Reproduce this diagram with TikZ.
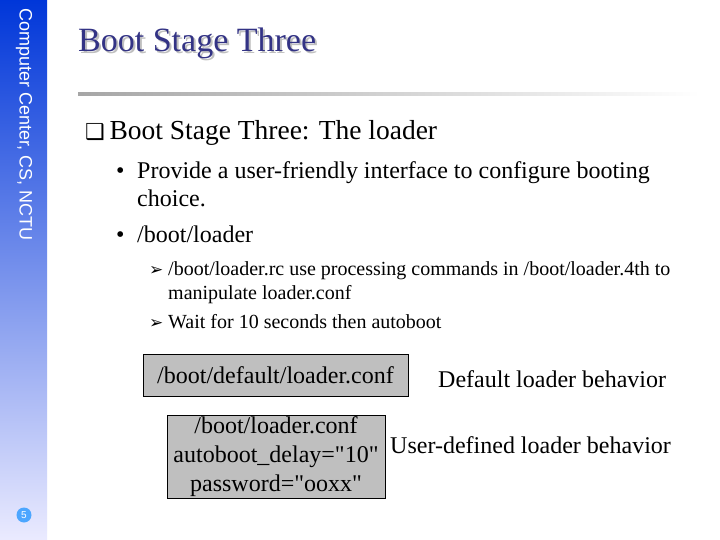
\documentclass[tikz,border=0pt]{standalone}
\usepackage{fontspec}
\setmainfont{Liberation Serif}
\newfontfamily\sidefont{Liberation Sans}
\newfontfamily\symfont{DejaVu Sans}
\newfontfamily\plainserif{Liberation Serif}
\newcommand{\dq}{{\plainserif\char34}}
\begin{document}
\begin{tikzpicture}[x=1pt,y=-1pt,
  txt/.style={anchor=base west,inner sep=0pt,text=black},
  gbox/.style={draw=black,fill=black!25,inner sep=0pt,align=center,font=\fontsize{24}{29}\selectfont}]
\useasboundingbox (0,0) rectangle (720,540);
\fill[white] (0,0) rectangle (720,540);
\shade[top color=blue!75!cyan!85!black, bottom color=blue!8!white] (0,0) rectangle (47,540);
\node[rotate=-90,text=white,font=\sidefont\fontsize{18}{20}\selectfont,anchor=west,inner sep=0pt] (side) at (24,8) {Computer Center, CS, NCTU};
\node[circle,fill=blue!50!cyan!70,text=white,minimum size=15,inner sep=0pt,font=\sidefont\fontsize{10}{10}\selectfont] (pg) at (24,515) {5};
\node[txt,text=black!25,font=\fontsize{34}{38}\selectfont] (tsh) at (80,54) {Boot Stage Three};
\node[txt,text=blue!40!black!80,font=\fontsize{34}{38}\selectfont] (title) at (78,52) {Boot Stage Three};
\shade[left color=black!35,right color=white] (78,93) rectangle (700,96);
\node[txt,font=\fontsize{27.5}{30}\selectfont] (l1) at (85,140) {{\symfont\fontsize{22}{24}\selectfont ❑}\,Boot Stage Three: The loader};
\node[txt,font=\fontsize{24}{28}\selectfont] (b1) at (116,179) {•};
\node[txt,font=\fontsize{24}{28}\selectfont] (b1t) at (137,179) {Provide a user-friendly interface to configure booting};
\node[txt,font=\fontsize{24}{28}\selectfont] (b1u) at (137,207) {choice.};
\node[txt,font=\fontsize{24}{28}\selectfont] (b2) at (116,243) {•};
\node[txt,font=\fontsize{24}{28}\selectfont] (b2t) at (137,243) {/boot/loader};
\node[txt,font=\fontsize{17}{19}\selectfont] (a1) at (149,275) {{\symfont ➢}};
\node[txt,font=\fontsize{20}{24}\selectfont] (a1t) at (168,275) {/boot/loader.rc use processing commands in /boot/loader.4th to};
\node[txt,font=\fontsize{20}{24}\selectfont] (a1u) at (168,299) {manipulate loader.conf};
\node[txt,font=\fontsize{17}{19}\selectfont] (a2) at (149,328) {{\symfont ➢}};
\node[txt,font=\fontsize{20}{24}\selectfont] (a2t) at (168,328) {Wait for 10 seconds then autoboot};
\node[gbox,minimum width=265,minimum height=42] (box1) at (275.5,375) {/boot/default/loader.conf};
\node[gbox,minimum width=218,minimum height=83,font=\fontsize{24}{29}\selectfont] (box2) at (276,456.5) {/boot/loader.conf\\autoboot\_delay=\dq 10\dq\\password=\dq ooxx\dq};
\node[txt,font=\fontsize{24}{26}\selectfont] (d1) at (438,387) {Default loader behavior};
\node[txt,font=\fontsize{24}{26}\selectfont] (d2) at (390,453) {User-defined loader behavior};
\end{tikzpicture}
\end{document}
